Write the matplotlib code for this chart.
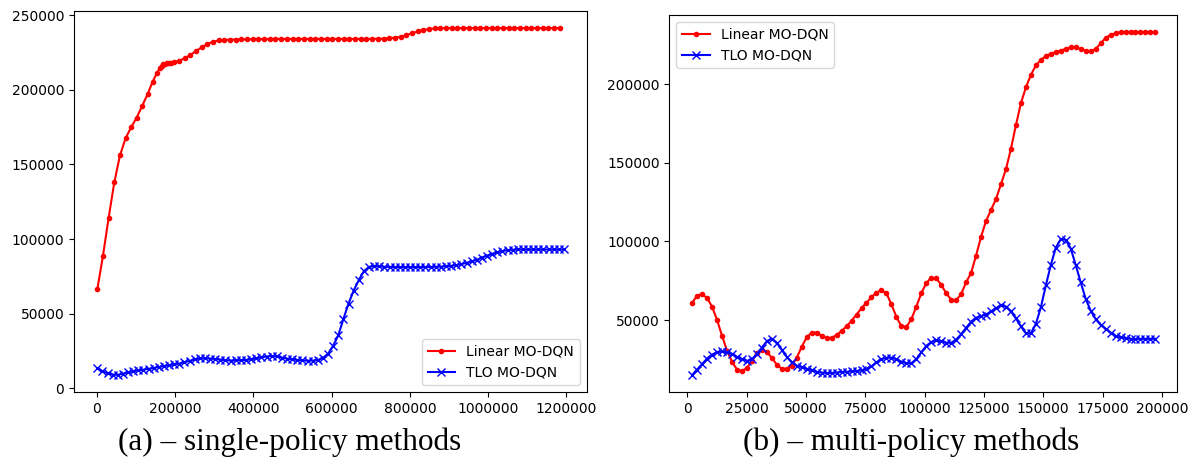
import matplotlib
matplotlib.use("Agg")
import matplotlib.pyplot as plt
import numpy as np

# (a) single-policy methods -- x in steps, y in reward (thousands)
lin_a_x_head = [1.6, 16.1, 30.6, 45.0, 59.5, 74.0, 88.5, 102.1, 115.7, 130.2, 143.0, 154.0,
                161.7, 166.0, 170.2, 175.3, 180.4, 185.5, 190.6, 197.4, 210.2, 224.7,
                239.2, 253.6, 268.1, 282.6, 297.1, 311.5, 326.0]
lin_a_y_head = [66.3, 88.8, 114.3, 137.9, 156.0, 167.6, 175.0, 181.3, 188.8, 197.1, 205.4, 211.2,
                214.5, 216.1, 217.0, 217.4, 217.6, 217.9, 218.1, 218.5, 219.4, 221.0,
                223.2, 225.9, 228.3, 230.6, 232.1, 233.0, 233.3]
lin_a_y_tail = [233.5, 233.6, 233.7, 233.7, 233.8, 233.8, 233.9, 233.9, 234.0, 234.0,
                234.0, 234.0, 234.0, 234.0, 234.0, 234.0, 234.0, 234.0, 234.0, 234.0,
                234.0, 234.0, 234.0, 234.0, 234.0, 234.0, 234.1, 234.2, 234.4, 234.8,
                235.5, 236.5, 237.8, 239.0, 240.0, 240.6, 241.0, 241.2, 241.3, 241.3,
                241.3, 241.3, 241.3, 241.3, 241.3, 241.3, 241.3, 241.3, 241.3, 241.3,
                241.3, 241.3, 241.3, 241.3, 241.3, 241.3, 241.3, 241.3, 241.3]
tlo_a_y = [13.4, 11.5, 10.0, 9.2, 9.0, 9.8, 10.7, 11.4, 12.0, 12.5,
           13.0, 13.6, 14.3, 14.9, 15.4, 16.0, 16.6, 17.4, 18.4, 19.3,
           20.0, 20.1, 19.9, 19.6, 19.2, 18.8, 18.6, 18.7, 18.9, 19.0,
           19.4, 20.1, 20.8, 21.3, 21.6, 21.4, 20.6, 19.9, 19.4, 19.0,
           18.7, 18.5, 18.5, 18.9, 20.3, 23.2, 28.5, 35.5, 46.5, 56.8,
           65.5, 72.5, 78.5, 81.3, 81.9, 81.7, 81.4, 81.3, 81.2, 81.2,
           81.2, 81.2, 81.2, 81.2, 81.3, 81.3, 81.4, 81.5, 81.7, 82.0,
           82.5, 83.2, 84.0, 85.0, 86.0, 87.6, 88.9, 90.0, 91.0, 91.9,
           92.5, 92.8, 93.0, 93.0, 93.0, 93.0, 93.0, 93.0, 93.0, 93.0,
           93.0, 93.0]

# (b) multi-policy methods
lin_b_y = [61, 65.5, 66.5, 64, 58.5, 50, 40, 30.5, 23.5, 18.5,
           17.5, 19.5, 24, 29, 31, 29.5, 26, 21.5, 19, 19,
           21, 26, 33, 39, 42, 42, 40, 38.5, 38.5, 40.5,
           43, 46, 49.5, 53.5, 57.5, 61, 64.5, 67.5, 69, 67,
           60, 52, 46, 45.5, 50.5, 58.5, 67, 73.5, 77, 76.5,
           72.5, 67, 63, 62.5, 66.5, 74, 80, 91, 103, 113,
           120, 127, 136.5, 146, 159, 174, 188, 198, 206, 212,
           215.5, 218, 219.5, 220.5, 221.5, 222.5, 223.5, 223.5, 222.5, 221.5,
           221, 222.5, 226, 229.5, 231.5, 232.5, 233, 233, 233, 233,
           233, 233, 233, 233]
tlo_b_y = [15, 18.5, 22, 25.5, 28, 29.5, 30, 29.5, 28.5, 26.5,
           25, 24, 25, 28.5, 32.5, 36.5, 38, 35.5, 31, 26.5,
           23, 21, 20, 19, 18, 17, 16.5, 16.3, 16.3, 16.5,
           17, 17, 17.3, 17.5, 18, 19, 20.5, 23, 25, 26,
           26, 25, 23.5, 22.5, 22.5, 25, 29.5, 33.5, 36, 37,
           36.5, 35.5, 35.5, 37.5, 41, 45, 49, 51.5, 52.5, 53.5,
           55.5, 57.5, 59.5, 58.5, 55.5, 51, 46, 41.5, 41.5, 47.5,
           58, 72, 85, 96, 101.5, 101, 95.5, 85, 74, 63.5,
           56, 50.5, 47, 44.5, 42, 40, 39, 38.5, 38, 38,
           38, 38, 38, 38]

lin_a_x = np.array(lin_a_x_head + list(np.linspace(340.5, 1183.2, len(lin_a_y_tail)))) * 1000
lin_a_y = np.array(lin_a_y_head + lin_a_y_tail) * 1000
tlo_a_x = np.linspace(1500, 1193600, len(tlo_a_y))
tlo_a_y = np.array(tlo_a_y) * 1000
b_x = np.linspace(2000, 197300, len(lin_b_y))
lin_b_y = np.array(lin_b_y) * 1000
tlo_b_y = np.array(tlo_b_y) * 1000

fig = plt.figure(figsize=(11.97, 4.57), dpi=100)
ax1 = fig.add_axes([0.0618, 0.1422, 0.4283, 0.8337])
ax2 = fig.add_axes([0.5592, 0.1416, 0.4239, 0.8256])

ax1.plot(lin_a_x, lin_a_y, "r.-", label="Linear MO-DQN")
ax1.plot(tlo_a_x, tlo_a_y, "bx-", label="TLO MO-DQN")
ax1.set_xlim(-58000, 1251600)
ax1.set_ylim(-2480, 252700)
ax1.set_xticks(np.arange(0, 1200001, 200000))
ax1.set_yticks(np.arange(0, 250001, 50000))
ax1.legend(loc="lower right", fontsize=10)

ax2.plot(b_x, lin_b_y, "r.-", label="Linear MO-DQN")
ax2.plot(b_x, tlo_b_y, "bx-", label="TLO MO-DQN")
ax2.set_xlim(-7600, 206300)
ax2.set_ylim(4000, 244100)
ax2.set_xticks(np.arange(0, 200001, 25000))
ax2.set_yticks(np.arange(50000, 200001, 50000))
ax2.legend(loc="upper left", fontsize=10)

for ax in (ax1, ax2):
    ax.ticklabel_format(style="plain", useOffset=False)
    ax.tick_params(labelsize=10)

fig.text(290 / 1197, 1 - 450 / 457, "(a) \u2013 single-policy methods", ha="center", va="baseline",
         family="Liberation Serif", fontsize=22.5)
fig.text(911.5 / 1197, 1 - 450 / 457, "(b) \u2013 multi-policy methods", ha="center", va="baseline",
         family="Liberation Serif", fontsize=22.5)

plt.savefig("out.png", dpi=100)
